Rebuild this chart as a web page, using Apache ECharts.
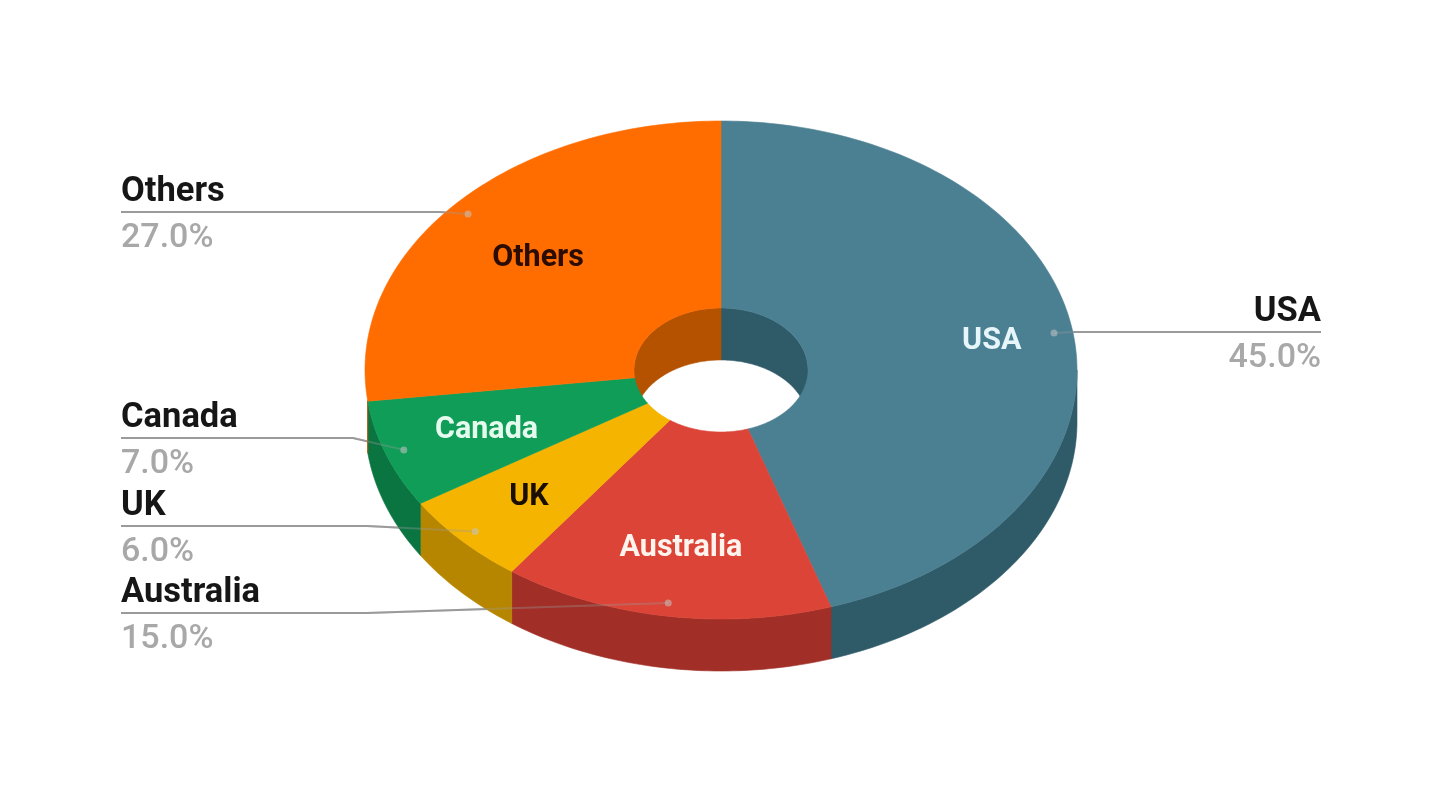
<!DOCTYPE html>
<html>
<head>
<meta charset="utf-8">
<style>html,body{margin:0;padding:0;background:#fff}#c{width:1440px;height:792px}</style>
<script src="https://cdn.jsdelivr.net/npm/echarts@6/dist/echarts.min.js"></script>
</head>
<body>
<div id="c"></div>
<script>
var categories = ['USA', 'Australia', 'UK', 'Canada', 'Others'];
var shares = [45, 15, 6, 7, 27];
var percentLabels = ['45.0%', '15.0%', '6.0%', '7.0%', '27.0%'];

var faceColors = ['#4b7f92', '#db4437', '#f4b400', '#0f9d58', '#ff6d00'];
var sideColors = ['#2f5b69', '#a12f27', '#b78600', '#0b7542', '#b55200'];
var innerLabelColors = ['#e6f6fa', '#fff3ee', '#1a0e00', '#e4fbee', '#2a0c00'];

// pie geometry
var G = {cx: 721, cy: 370, rx: 356, ry: 249, hrx: 87, hry: 62, depth: 52, dot: 0.947};
// per-slice placement: inner label radius fraction, outside label line y, elbow x, line start x
var innerF = [0.77, 0.72, 0.74, 0.70, 0.685];
var lineY = [332, 613, 526, 438, 212];
var elbowX = [1075, 367, 367, 353, 440];
var lineEndX = [1321, 121, 121, 121, 121];

var total = shares.reduce(function (a, b) { return a + b; }, 0);
var starts = [], acc = 0;
shares.forEach(function (v) { starts.push(acc / total * 360); acc += v; });

function pt(t, rx, ry, dy) {
  var r = t * Math.PI / 180;
  return [G.cx + rx * Math.sin(r), G.cy - ry * Math.cos(r) + (dy || 0)];
}
function arc(a, b, rx, ry, dy) {
  var n = Math.max(2, Math.ceil(Math.abs(b - a) / 1)), out = [];
  for (var i = 0; i <= n; i++) out.push(pt(a + (b - a) * i / n, rx, ry, dy));
  return out;
}
function poly(points, color, z2) {
  return {
    type: 'polygon', z2: z2, shape: {points: points},
    style: {fill: color, stroke: color, lineWidth: 0.6}
  };
}
function overlap(a, b, lo, hi) {
  var s = Math.max(a, lo), e = Math.min(b, hi);
  return e > s ? [s, e] : null;
}

function renderSlice(params, api) {
  var i = params.dataIndex;
  var v = api.value(0);
  var a = starts[i], b = a + v / total * 360, m = (a + b) / 2;
  var kids = [];

  // outer wall, visible on the front of the pie
  var f = overlap(a, b, 90, 263);
  if (f) kids.push(poly(arc(f[0], f[1], G.rx, G.ry).concat(arc(f[1], f[0], G.rx, G.ry, G.depth)), sideColors[i], 1));

  // inner wall of the hole, visible on the back half
  [[270, 360], [0, 90]].forEach(function (r) {
    var w = overlap(a, b, r[0], r[1]);
    if (w) kids.push(poly(arc(w[0], w[1], G.hrx, G.hry).concat(arc(w[1], w[0], G.hrx, G.hry, G.depth)), sideColors[i], 1));
  });

  // top face
  kids.push(poly(arc(a, b, G.rx, G.ry).concat(arc(b, a, G.hrx, G.hry)), faceColors[i], 2));

  // leader line: solid outside the pie, faint over it
  var d = pt(m, G.rx * G.dot, G.ry * G.dot);
  var y = lineY[i];
  var pts = [[lineEndX[i], y], [elbowX[i], y], d];
  kids.push({
    type: 'polyline', z2: 0, shape: {points: pts},
    style: {fill: null, stroke: '#9a9a9a', lineWidth: 2}
  });
  kids.push({
    type: 'polyline', z2: 3, shape: {points: pts},
    style: {fill: null, stroke: '#9a9a9a', lineWidth: 2, opacity: 0.35}
  });
  kids.push({type: 'circle', z2: 4, shape: {cx: d[0], cy: d[1], r: 3.5}, style: {fill: '#c4c4c4', opacity: 0.55}});

  // label on the slice
  var c = pt(m, G.rx * innerF[i], G.ry * innerF[i]);
  kids.push({
    type: 'text', z2: 5,
    style: {
      x: c[0], y: c[1] + 1, text: categories[i], fill: innerLabelColors[i],
      font: '700 30.5px Roboto', textAlign: 'center', textVerticalAlign: 'middle'
    }
  });

  // label outside the pie
  var right = i === 0;
  kids.push({
    type: 'text', z2: 5,
    style: {
      x: lineEndX[i], y: y - 20, text: categories[i], fill: '#161616',
      font: '700 34.5px Roboto', textAlign: right ? 'right' : 'left', textVerticalAlign: 'middle'
    }
  });
  kids.push({
    type: 'text', z2: 5,
    style: {
      x: lineEndX[i], y: y + 26, text: percentLabels[i], fill: '#a8a8a8',
      font: '500 34px Roboto', textAlign: right ? 'right' : 'left', textVerticalAlign: 'middle'
    }
  });
  return {type: 'group', children: kids};
}

var chart = echarts.init(document.getElementById('c'), null, {width: 1440, height: 792});
chart.setOption({
  backgroundColor: '#ffffff',
  animation: false,
  series: [{
    type: 'custom',
    coordinateSystem: 'none',
    silent: true,
    renderItem: renderSlice,
    data: shares.map(function (v) { return [v]; })
  }]
});
</script>
</body>
</html>
